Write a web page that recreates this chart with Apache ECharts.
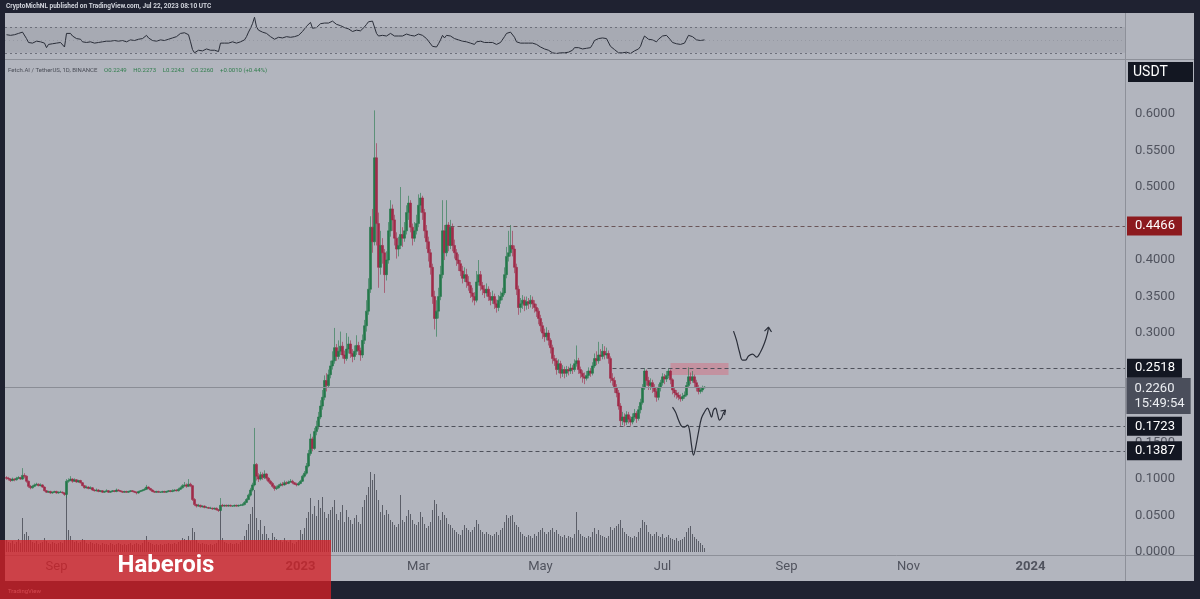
<!DOCTYPE html>
<html><head><meta charset="utf-8">
<script src="https://cdn.jsdelivr.net/npm/echarts@6/dist/echarts.min.js"></script>
<style>html,body{margin:0;padding:0;background:#1f2231}#c{width:1200px;height:599px}</style>
</head><body><div id="c"></div>
<script>
// days counted from 2023-01-01; first candle = 2022-08-07
const firstDay = -147;
const firstOpen = 0.102;
const closes = [
0.101,0.100,0.098,0.100,0.099,0.101,0.102,0.100,0.105,0.104,
0.097,0.090,0.088,0.090,0.092,0.093,0.091,0.092,0.089,0.084,
0.082,0.083,0.081,0.082,0.083,0.081,0.082,0.082,0.081,0.079,
0.097,0.098,0.100,0.097,0.099,0.096,0.098,0.095,0.091,0.088,
0.089,0.087,0.088,0.085,0.084,0.085,0.083,0.084,0.082,0.083,
0.084,0.082,0.083,0.084,0.083,0.085,0.084,0.083,0.082,0.083,
0.082,0.083,0.084,0.083,0.082,0.081,0.083,0.084,0.085,0.086,
0.089,0.087,0.085,0.083,0.082,0.083,0.082,0.082,0.083,0.082,
0.083,0.084,0.083,0.084,0.085,0.084,0.086,0.088,0.091,0.092,
0.090,0.093,0.091,0.072,0.065,0.063,0.064,0.062,0.063,0.061,
0.061,0.060,0.060,0.059,0.060,0.058,0.057,0.064,0.063,0.064,
0.063,0.064,0.063,0.063,0.064,0.063,0.064,0.064,0.065,0.068,
0.072,0.078,0.085,0.092,0.120,0.104,0.100,0.106,0.102,0.107,
0.101,0.097,0.094,0.090,0.087,0.088,0.091,0.093,0.092,0.095,
0.094,0.096,0.097,0.095,0.093,0.092,0.094,0.097,0.104,0.108,
0.118,0.135,0.155,0.142,0.165,0.172,0.185,0.200,0.212,0.235,
0.228,0.243,0.255,0.262,0.280,0.268,0.275,0.282,0.270,0.265,
0.278,0.285,0.272,0.268,0.275,0.283,0.276,0.270,0.290,0.310,
0.330,0.360,0.445,0.425,0.540,0.450,0.390,0.420,0.410,0.380,
0.400,0.440,0.470,0.455,0.430,0.415,0.420,0.435,0.430,0.440,
0.465,0.478,0.445,0.430,0.440,0.450,0.475,0.485,0.465,0.440,
0.425,0.410,0.390,0.350,0.320,0.330,0.350,0.380,0.440,0.410,
0.448,0.420,0.445,0.420,0.410,0.400,0.395,0.385,0.375,0.380,
0.370,0.365,0.355,0.350,0.345,0.370,0.380,0.365,0.360,0.355,
0.360,0.350,0.345,0.350,0.340,0.335,0.345,0.350,0.355,0.380,
0.405,0.410,0.420,0.415,0.390,0.360,0.335,0.340,0.345,0.338,
0.343,0.340,0.345,0.340,0.335,0.330,0.320,0.310,0.300,0.295,
0.300,0.290,0.280,0.265,0.262,0.250,0.258,0.245,0.250,0.245,
0.250,0.248,0.252,0.250,0.258,0.262,0.250,0.245,0.240,0.238,
0.242,0.248,0.245,0.255,0.265,0.262,0.270,0.268,0.275,0.270,
0.272,0.265,0.238,0.235,0.225,0.218,0.200,0.180,0.185,0.178,
0.188,0.182,0.178,0.185,0.190,0.183,0.195,0.205,0.225,0.248,
0.235,0.228,0.232,0.225,0.220,0.212,0.225,0.232,0.240,0.237,
0.242,0.248,0.236,0.222,0.218,0.215,0.212,0.210,0.213,0.215,
0.228,0.240,0.235,0.240,0.232,0.225,0.220,0.222,0.2249,0.2260
];
const highs = [
0.104,0.103,0.101,0.102,0.101,0.103,0.104,0.103,0.115,0.108,
0.105,0.098,0.092,0.092,0.094,0.095,0.094,0.094,0.093,0.090,
0.085,0.084,0.084,0.083,0.084,0.084,0.083,0.084,0.083,0.082,
0.100,0.101,0.104,0.101,0.101,0.100,0.099,0.099,0.096,0.092,
0.091,0.090,0.090,0.089,0.086,0.087,0.086,0.085,0.085,0.084,
0.086,0.085,0.084,0.085,0.085,0.087,0.086,0.085,0.084,0.084,
0.084,0.084,0.085,0.085,0.084,0.083,0.084,0.085,0.086,0.088,
0.092,0.090,0.088,0.086,0.084,0.084,0.084,0.083,0.084,0.084,
0.084,0.085,0.085,0.086,0.086,0.086,0.088,0.090,0.093,0.096,
0.094,0.100,0.095,0.092,0.074,0.066,0.066,0.065,0.064,0.064,
0.063,0.062,0.062,0.061,0.061,0.061,0.059,0.074,0.066,0.065,
0.065,0.065,0.065,0.064,0.065,0.065,0.065,0.066,0.067,0.070,
0.074,0.080,0.088,0.095,0.170,0.122,0.108,0.110,0.109,0.112,
0.108,0.103,0.099,0.096,0.092,0.091,0.093,0.095,0.096,0.098,
0.097,0.098,0.100,0.099,0.096,0.095,0.096,0.099,0.106,0.111,
0.122,0.140,0.162,0.158,0.170,0.180,0.192,0.208,0.222,0.242,
0.245,0.250,0.262,0.275,0.307,0.285,0.290,0.302,0.288,0.276,
0.300,0.295,0.290,0.278,0.283,0.297,0.288,0.280,0.298,0.318,
0.345,0.375,0.460,0.470,0.605,0.560,0.465,0.440,0.430,0.415,
0.412,0.452,0.482,0.476,0.462,0.438,0.432,0.500,0.445,0.452,
0.475,0.488,0.482,0.450,0.452,0.462,0.490,0.492,0.488,0.470,
0.448,0.432,0.415,0.395,0.358,0.345,0.362,0.392,0.482,0.448,
0.482,0.452,0.455,0.450,0.428,0.415,0.408,0.400,0.392,0.390,
0.388,0.378,0.370,0.362,0.356,0.385,0.400,0.385,0.370,0.366,
0.368,0.364,0.356,0.358,0.354,0.346,0.352,0.357,0.362,0.390,
0.418,0.440,0.448,0.440,0.420,0.395,0.365,0.348,0.352,0.350,
0.350,0.348,0.352,0.350,0.345,0.340,0.334,0.325,0.315,0.306,
0.308,0.304,0.293,0.284,0.270,0.266,0.264,0.262,0.256,0.254,
0.255,0.254,0.258,0.256,0.264,0.283,0.266,0.254,0.249,0.246,
0.248,0.253,0.252,0.260,0.272,0.275,0.288,0.278,0.285,0.282,
0.280,0.276,0.268,0.245,0.240,0.230,0.222,0.204,0.192,0.190,
0.193,0.192,0.186,0.190,0.196,0.193,0.200,0.210,0.230,0.252,
0.250,0.240,0.238,0.236,0.230,0.224,0.230,0.236,0.245,0.244,
0.248,0.252,0.250,0.238,0.226,0.222,0.219,0.216,0.218,0.220,
0.233,0.253,0.246,0.248,0.243,0.236,0.229,0.226,0.228,0.2273
];
const lows = [
0.099,0.098,0.096,0.097,0.097,0.098,0.100,0.099,0.099,0.101,
0.095,0.088,0.086,0.087,0.089,0.091,0.090,0.090,0.088,0.083,
0.081,0.081,0.080,0.080,0.081,0.080,0.080,0.081,0.080,0.077,
0.074,0.095,0.097,0.095,0.096,0.095,0.095,0.094,0.090,0.087,
0.087,0.086,0.086,0.084,0.083,0.083,0.082,0.082,0.081,0.081,
0.082,0.081,0.081,0.082,0.082,0.082,0.083,0.082,0.081,0.081,
0.081,0.081,0.082,0.082,0.081,0.079,0.080,0.082,0.083,0.084,
0.085,0.086,0.084,0.082,0.081,0.081,0.081,0.081,0.081,0.081,
0.081,0.082,0.082,0.082,0.083,0.083,0.083,0.085,0.087,0.089,
0.088,0.089,0.089,0.070,0.063,0.061,0.062,0.061,0.061,0.060,
0.060,0.059,0.059,0.058,0.058,0.057,0.055,0.056,0.062,0.062,
0.062,0.062,0.062,0.062,0.062,0.062,0.062,0.063,0.063,0.064,
0.067,0.071,0.076,0.083,0.090,0.098,0.096,0.098,0.099,0.100,
0.098,0.095,0.092,0.088,0.084,0.085,0.087,0.090,0.090,0.091,
0.092,0.093,0.095,0.093,0.092,0.090,0.091,0.093,0.096,0.102,
0.106,0.116,0.132,0.138,0.140,0.160,0.168,0.182,0.195,0.208,
0.220,0.225,0.238,0.250,0.258,0.262,0.264,0.270,0.265,0.258,
0.262,0.272,0.266,0.260,0.263,0.270,0.270,0.262,0.266,0.285,
0.302,0.325,0.355,0.410,0.420,0.420,0.362,0.380,0.395,0.355,
0.372,0.395,0.432,0.440,0.420,0.402,0.405,0.415,0.418,0.425,
0.435,0.455,0.438,0.420,0.425,0.435,0.445,0.465,0.455,0.430,
0.415,0.398,0.380,0.340,0.305,0.295,0.320,0.345,0.375,0.400,
0.405,0.412,0.415,0.412,0.402,0.392,0.385,0.378,0.368,0.370,
0.362,0.358,0.348,0.342,0.338,0.342,0.365,0.358,0.352,0.348,
0.350,0.344,0.338,0.340,0.333,0.328,0.330,0.340,0.345,0.352,
0.375,0.398,0.405,0.405,0.382,0.352,0.325,0.328,0.333,0.330,
0.332,0.333,0.335,0.333,0.328,0.322,0.312,0.302,0.292,0.288,
0.290,0.283,0.272,0.258,0.255,0.243,0.245,0.238,0.240,0.238,
0.240,0.242,0.244,0.244,0.247,0.254,0.244,0.238,0.232,0.230,
0.235,0.238,0.240,0.242,0.252,0.256,0.258,0.262,0.264,0.264,
0.265,0.258,0.232,0.228,0.218,0.212,0.195,0.172,0.174,0.172,
0.174,0.176,0.173,0.175,0.180,0.177,0.180,0.190,0.202,0.222,
0.228,0.222,0.222,0.218,0.212,0.206,0.208,0.220,0.228,0.230,
0.233,0.238,0.230,0.216,0.212,0.210,0.208,0.206,0.207,0.210,
0.213,0.225,0.230,0.232,0.226,0.220,0.216,0.217,0.219,0.2243
];
const volumes = [
12,10,9,11,8,10,13,9,34,18,
20,16,12,10,9,11,8,9,10,14,
11,9,8,10,9,8,9,10,9,12,
60,22,16,12,10,11,9,10,13,12,
9,8,10,9,8,9,8,7,9,8,
8,7,9,8,7,8,9,8,7,8,
7,8,9,7,8,9,8,7,9,12,
16,10,9,8,7,8,7,8,7,8,
8,9,8,8,9,8,10,11,14,13,
12,16,11,24,20,12,9,8,9,8,
8,7,8,7,8,9,12,45,14,10,
9,8,9,8,8,9,8,10,12,16,
22,28,38,45,62,34,22,32,18,26,
18,14,12,19,15,13,11,12,10,14,
11,10,12,9,8,10,12,22,18,24,
34,40,54,38,46,36,52,44,55,40,
34,38,42,45,52,38,32,40,47,30,
42,35,32,28,34,37,30,28,45,52,
57,65,80,72,78,62,52,40,47,37,
42,38,32,30,27,25,28,57,32,30,
36,42,38,32,28,27,30,40,35,28,
24,26,30,42,52,48,36,32,40,37,
34,28,27,24,22,20,18,17,22,27,
24,22,20,22,25,32,28,22,20,18,
20,18,17,16,18,20,17,22,24,30,
37,34,36,37,30,27,25,20,18,16,
15,17,16,14,18,16,20,22,24,20,
18,20,22,24,20,22,18,16,15,17,
14,16,15,14,18,40,22,18,16,15,
14,16,15,20,24,18,22,17,16,15,
14,16,25,22,24,26,28,32,24,20,
18,16,15,14,16,15,20,24,32,30,
27,20,18,16,18,20,16,15,18,14,
15,17,14,13,12,14,11,12,13,15,
20,24,26,18,15,13,11,9,7,4
];
const rsi = [
58,60,57,59,58,61,60,57,62,61,
52,46,44,45,47,48,46,47,46,45,
38,43,45,44,46,45,44,46,44,39,
60,58,60,56,54,52,50,51,47,44,
46,45,47,46,45,47,46,48,47,49,
48,46,48,50,49,47,48,50,49,48,
47,49,50,48,49,50,51,53,52,55,
57,53,50,49,50,48,49,50,51,49,
50,51,52,53,54,55,57,60,62,61,
63,58,47,35,30,33,34,35,33,34,
36,35,34,33,34,33,32,45,44,45,
46,45,46,47,46,45,47,47,48,50,
55,62,68,75,85,70,65,62,62,64,
60,58,55,52,51,53,54,55,53,56,
55,56,54,53,55,56,57,59,63,67,
71,74,77,68,70,69,72,75,77,76,
73,76,78,79,80,74,71,72,70,69,
71,67,65,63,64,65,63,64,66,70,
74,78,80,79,76,60,56,58,57,54,
56,59,60,58,56,55,56,57,56,57,
59,60,57,55,56,57,59,60,57,55,
52,48,45,40,38,39,44,50,57,53,
57,54,56,53,52,51,50,50,48,49,
47,46,45,44,43,47,49,48,47,46,
47,46,45,46,44,43,45,46,48,55,
60,61,62,60,54,47,44,45,44,45,
44,45,46,45,44,43,41,39,38,36,
37,34,32,30,30,29,32,30,31,30,
32,31,33,34,38,41,38,37,36,35,
37,39,38,43,49,48,52,51,53,51,
52,50,40,38,35,33,30,27,30,28,
31,30,29,31,33,32,36,40,49,56,
53,51,52,50,49,47,51,53,56,55,
57,58,50,46,45,44,43,43,44,45,
51,57,54,55,52,50,48,49,50,50
];
const tickDays = [-122, 0, 59, 120, 181, 243, 304, 365];
const tickLabels = ['Sep', '2023', 'Mar', 'May', 'Jul', 'Sep', 'Nov', '2024'];
const priceTicks = [0, 0.05, 0.1, 0.15, 0.2, 0.25, 0.3, 0.35, 0.4, 0.45, 0.5, 0.55, 0.6];
const levelPrices = [0.4466, 0.2518, 0.1723, 0.1387];
const levelStartDays = [75, 156, 9, 9];
const levelBoxColors = ['#8c1a1e', '#131722', '#131722', '#131722'];
const zoneCorners = [[185, 0.259], [214, 0.2425]];
const pathUpper = [[216.5,0.3027],[218,0.2904],[219.5,0.2740],[221,0.2630],[222.5,0.2630],[224,0.2685],[226,0.2712],[228,0.2671],[230,0.2740],[232,0.2863],[233.5,0.3000],[234,0.3082]];
const arrowUpper = [[232,0.3027],[234,0.3082],[235.5,0.3014]];
const pathLower = [[186,0.1986],[187.5,0.1918],[189,0.1808],[190.5,0.1726],[192,0.1712],[193.5,0.1740],[194.5,0.1671],[195.5,0.1466],[196.5,0.1329],[197.5,0.1425],[199,0.1644],[200.5,0.1836],[202,0.1918],[203.5,0.1973],[204.5,0.1918],[205.5,0.1849],[206.5,0.1945],[207.5,0.1973],[208.5,0.1890],[209.5,0.1808],[210.5,0.1836],[211.5,0.1904],[212.5,0.1945]];
const arrowLower = [[210,0.1932],[212.5,0.1945],[212,0.1877]];
const countdownText = '15:49:54';

const X_MIN = -147.75, X_MAX = 412.25;
const DARK = '#1f2231';
const FONT = 'Roboto, "Noto Sans", sans-serif';
const UP = '#23784a', DOWN = '#a02a48';

const candleData = closes.map((c, i) => [firstDay + i, i === 0 ? firstOpen : closes[i - 1], c, lows[i], highs[i]]);
const volData = volumes.map((v, i) => [firstDay + i, v]);
const rsiData = rsi.map((v, i) => [firstDay + i, v]);
const lastClose = closes[closes.length - 1];

const chart = echarts.init(document.getElementById('c'));
const gridBase = { left: 5, right: 75 };
const hiddenX = i => ({ type: 'value', gridIndex: i, min: X_MIN, max: X_MAX, show: false });

const levelLines = levelPrices.map((p, i) => [
  { coord: [levelStartDays[i], p],
    lineStyle: { color: i === 0 ? '#6a5558' : '#4e515b', type: [4, 3], width: 1 },
    label: { show: true, position: 'end', distance: 2, formatter: p.toFixed(4), color: '#ffffff',
      backgroundColor: levelBoxColors[i], padding: [3, 7, 2, 8], fontSize: 13, lineHeight: 14, fontFamily: FONT } },
  { coord: [X_MAX, p] }
]);
levelLines.push([
  { coord: [X_MIN, lastClose], lineStyle: { color: '#8a8d96', type: 'solid', width: 1 }, label: { show: false } },
  { coord: [X_MAX, lastClose] }
]);

const option = {
  animation: false,
  backgroundColor: '#b2b5be',
  textStyle: { fontFamily: FONT },
  grid: [
    Object.assign({ top: 14, height: 44 }, gridBase),
    Object.assign({ top: 60, bottom: 44 }, gridBase),
    Object.assign({ top: 352, bottom: 47 }, gridBase)
  ],
  xAxis: [
    hiddenX(0),
    { type: 'value', gridIndex: 1, min: X_MIN, max: X_MAX,
      axisLine: { show: false }, axisTick: { show: false }, splitLine: { show: false },
      axisLabel: { show: true, customValues: tickDays, margin: 5, fontSize: 13, color: '#50535e',
        formatter: v => { const k = tickDays.indexOf(v); const t = k >= 0 ? tickLabels[k] : ''; return /^\d{4}$/.test(t) ? '{b|' + t + '}' : t; },
        rich: { b: { fontWeight: 'bold', fontSize: 13, color: '#50535e', fontFamily: FONT } } } },
    hiddenX(2)
  ],
  yAxis: [
    { type: 'value', gridIndex: 0, min: 22, max: 90, show: false },
    { type: 'value', gridIndex: 1, min: -0.004, max: 0.674, position: 'right',
      axisLine: { show: false }, axisTick: { show: false }, splitLine: { show: false },
      axisLabel: { customValues: priceTicks, margin: 10, fontSize: 13, color: '#50535e', formatter: v => v.toFixed(4) } },
    { type: 'value', gridIndex: 2, min: 0, max: 200, show: false }
  ],
  series: [
    { type: 'line', xAxisIndex: 0, yAxisIndex: 0, data: rsiData, symbol: 'none',
      lineStyle: { color: '#2a2e39', width: 1 }, z: 3,
      markArea: { silent: true, itemStyle: { color: 'rgba(110,113,125,0.16)' }, data: [[{ yAxis: 30 }, { yAxis: 70 }]] },
      markLine: { silent: true, symbol: 'none', label: { show: false },
        data: [{ yAxis: 70, lineStyle: { color: '#6d707b', type: [2, 3], width: 1.2 } },
               { yAxis: 30, lineStyle: { color: '#6d707b', type: [2, 3], width: 1.2 } },
               { yAxis: 50, lineStyle: { color: 'rgba(120,123,134,0.35)', type: [1, 3], width: 1 } }] } },
    { type: 'bar', xAxisIndex: 2, yAxisIndex: 2, data: volData, barWidth: 1,
      itemStyle: { color: '#5b5e68' }, z: 1 },
    { type: 'candlestick', xAxisIndex: 1, yAxisIndex: 1, data: candleData, barWidth: 1.6,
      encode: { x: 0, y: [1, 2, 3, 4] }, z: 4, large: false,
      itemStyle: { color: UP, color0: DOWN, borderColor: UP, borderColor0: DOWN, borderColorDoji: UP, borderWidth: 0.6 },
      markArea: { silent: true, itemStyle: { color: 'rgba(215,105,125,0.45)' },
        data: [[{ coord: zoneCorners[0] }, { coord: zoneCorners[1] }]] },
      markLine: { silent: true, symbol: 'none', data: levelLines },
      markPoint: { silent: true, data: [{ coord: [X_MAX, lastClose], symbol: 'rect', symbolSize: [1, 1],
        itemStyle: { color: 'rgba(0,0,0,0)' },
        label: { show: true, position: 'right', distance: 1, offset: [0, 9], align: 'left',
          formatter: lastClose.toFixed(4) + '\n' + countdownText, color: '#eceef2', backgroundColor: '#4a4e5b',
          padding: [3, 6, 3, 8], fontSize: 13, lineHeight: 15, fontFamily: FONT } }] } },
    { type: 'line', xAxisIndex: 1, yAxisIndex: 1, data: pathUpper, smooth: 0.4, symbol: 'none', lineStyle: { color: '#2a2e39', width: 1.2 }, z: 6 },
    { type: 'line', xAxisIndex: 1, yAxisIndex: 1, data: arrowUpper, symbol: 'none', lineStyle: { color: '#2a2e39', width: 1.2 }, z: 6 },
    { type: 'line', xAxisIndex: 1, yAxisIndex: 1, data: pathLower, smooth: 0.4, symbol: 'none', lineStyle: { color: '#2a2e39', width: 1.2 }, z: 6 },
    { type: 'line', xAxisIndex: 1, yAxisIndex: 1, data: arrowLower, symbol: 'none', lineStyle: { color: '#2a2e39', width: 1.2 }, z: 6 }
  ],
  graphic: [
    { type: 'rect', silent: true, z: 100, shape: { x: 0, y: 0, width: 1200, height: 13 }, style: { fill: DARK } },
    { type: 'rect', silent: true, z: 100, shape: { x: 0, y: 0, width: 5, height: 599 }, style: { fill: DARK } },
    { type: 'rect', silent: true, z: 100, shape: { x: 1194, y: 0, width: 6, height: 599 }, style: { fill: DARK } },
    { type: 'rect', silent: true, z: 100, shape: { x: 0, y: 581, width: 1200, height: 18 }, style: { fill: DARK } },
    { type: 'line', silent: true, z: 100, shape: { x1: 5, y1: 59.5, x2: 1194, y2: 59.5 }, style: { stroke: '#8d9099', lineWidth: 1 } },
    { type: 'line', silent: true, z: 100, shape: { x1: 1125.5, y1: 13, x2: 1125.5, y2: 581 }, style: { stroke: '#8d9099', lineWidth: 1 } },
    { type: 'line', silent: true, z: 100, shape: { x1: 5, y1: 555.5, x2: 1194, y2: 555.5 }, style: { stroke: '#8d9099', lineWidth: 1 } },
    { type: 'text', silent: true, z: 101, x: 6, y: 3,
      style: { text: 'CryptoMichNL published on TradingView.com, Jul 22, 2023 08:10 UTC', fill: '#d1d4dc', font: 'bold 6.5px Roboto' } },
    { type: 'text', silent: true, z: 101, x: 8, y: 64,
      style: { text: '{g|Fetch.AI / TetherUS, 1D, BINANCE}  {v|O0.2249}  {v|H0.2273}  {v|L0.2243}  {v|C0.2260}  {v|+0.0010 (+0.44%)}',
        rich: { g: { fill: '#4a4d57', fontSize: 6, fontFamily: FONT }, v: { fill: '#2f7d4c', fontSize: 6, fontFamily: FONT } } } },
    { type: 'rect', silent: true, z: 101, shape: { x: 1128, y: 62, width: 65, height: 20 }, style: { fill: '#131722' } },
    { type: 'text', silent: true, z: 102, x: 1133, y: 72, style: { text: 'USDT', fill: '#ffffff', font: '14px Roboto', verticalAlign: 'middle' } },
    { type: 'text', silent: true, z: 101, x: 8, y: 588, style: { text: 'TradingView', fill: '#d1d4dc', font: '6px Roboto' } },
    { type: 'rect', silent: true, z: 110, shape: { x: 0, y: 540, width: 331, height: 59 }, style: { fill: 'rgba(212,32,38,0.78)' } },
    { type: 'text', silent: true, z: 111, x: 166, y: 566,
      style: { text: 'Haberois', fill: '#ffffff', font: 'bold 24px Roboto', align: 'center', verticalAlign: 'middle' } }
  ]
};
chart.setOption(option);
</script>
</body></html>
